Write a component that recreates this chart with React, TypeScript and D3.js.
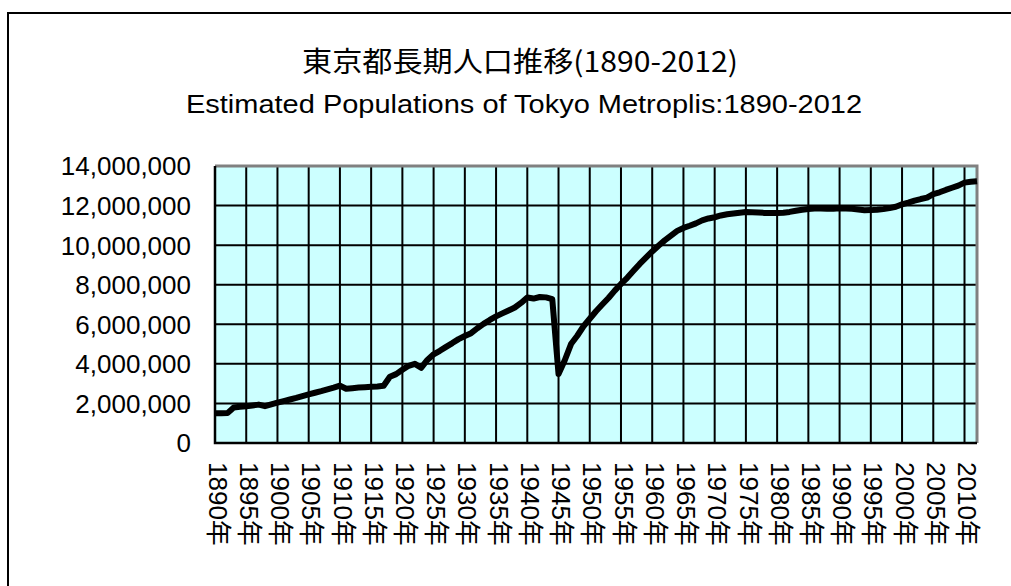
import { useEffect, useRef } from "react";
import * as d3 from "d3";

// 東京都の推計人口 (年ごと, 1890-2012)
const years: number[] = d3.range(1890, 2013);

const population: number[] = [
  1500000, 1500000, 1510000, 1790000, 1830000, 1860000, 1900000, 1940000, 1860000, 1950000, // 1890-1899
  2040000, 2120000, 2200000, 2280000, 2370000, 2460000, 2540000, 2620000, 2710000, 2800000, // 1900-1909
  2900000, 2740000, 2770000, 2800000, 2820000, 2840000, 2860000, 2890000, 3350000, 3480000, // 1910-1919
  3700000, 3900000, 4000000, 3800000, 4200000, 4480000, 4660000, 4860000, 5050000, 5250000, // 1920-1929
  5410000, 5550000, 5800000, 6020000, 6220000, 6400000, 6550000, 6700000, 6850000, 7080000, // 1930-1939
  7350000, 7300000, 7380000, 7360000, 7270000, 3490000, 4180000, 5000000, 5420000, 5900000, // 1940-1949
  6280000, 6660000, 7000000, 7330000, 7700000, 8040000, 8350000, 8700000, 9050000, 9370000, // 1950-1959
  9680000, 9970000, 10240000, 10480000, 10720000, 10870000, 10980000, 11100000, 11250000, 11350000, // 1960-1969
  11410000, 11500000, 11560000, 11600000, 11640000, 11670000, 11660000, 11650000, 11630000, 11620000, // 1970-1979
  11620000, 11640000, 11680000, 11740000, 11790000, 11830000, 11850000, 11850000, 11840000, 11840000, // 1980-1989
  11860000, 11850000, 11840000, 11800000, 11760000, 11770000, 11790000, 11820000, 11870000, 11940000, // 1990-1999
  12060000, 12150000, 12250000, 12330000, 12400000, 12580000, 12670000, 12790000, 12900000, 13010000, // 2000-2009
  13160000, 13200000, 13230000, // 2010-2012
];

const yTicks: number[] = d3.range(0, 14000001, 2000000);
const labelYears: number[] = d3.range(1890, 2013, 5);

const title = "東京都長期人口推移(1890-2012)";
const subtitle = "Estimated Populations of Tokyo Metroplis:1890-2012";

const W = 1011;
const H = 586;
const FONT = "'Liberation Sans', Arial, 'Noto Sans CJK JP', sans-serif";

export default function App() {
  const svgRef = useRef<SVGSVGElement>(null);

  useEffect(() => {
    if (!svgRef.current) return;
    const svg = d3.select(svgRef.current);
    svg.selectAll("*").remove();

    const plot = { left: 215, right: 977, top: 166, bottom: 443 };

    const x = d3.scalePoint<number>().domain(years).range([plot.left, plot.right]);
    const y = d3.scaleLinear().domain([0, 14000000]).range([plot.bottom, plot.top]);

    svg.append("rect").attr("width", W).attr("height", H).attr("fill", "#fff");

    // outer frame (runs off the right and bottom)
    svg
      .append("rect")
      .attr("x", 8)
      .attr("y", 13)
      .attr("width", W + 20)
      .attr("height", H + 20)
      .attr("fill", "none")
      .attr("stroke", "#000")
      .attr("stroke-width", 2);

    svg
      .append("text")
      .attr("x", 520)
      .attr("y", 72)
      .attr("text-anchor", "middle")
      .attr("font-family", "'Noto Sans CJK JP', sans-serif")
      .attr("font-size", 28)
      .attr("textLength", 436)
      .attr("lengthAdjust", "spacingAndGlyphs")
      .attr("fill", "#000")
      .text(title);

    svg
      .append("text")
      .attr("x", 524)
      .attr("y", 113)
      .attr("text-anchor", "middle")
      .attr("font-family", FONT)
      .attr("font-size", 25)
      .attr("textLength", 676)
      .attr("lengthAdjust", "spacingAndGlyphs")
      .attr("fill", "#000")
      .text(subtitle);

    // plot background
    svg
      .append("rect")
      .attr("x", plot.left)
      .attr("y", plot.top)
      .attr("width", plot.right - plot.left)
      .attr("height", plot.bottom - plot.top)
      .attr("fill", "#CCFFFF");

    // horizontal grid
    svg
      .append("g")
      .selectAll("line")
      .data(yTicks.filter((d) => d > 0 && d < 14000000))
      .enter()
      .append("line")
      .attr("x1", plot.left)
      .attr("x2", plot.right)
      .attr("y1", (d) => y(d))
      .attr("y2", (d) => y(d))
      .attr("stroke", "#000")
      .attr("stroke-width", 2);

    // vertical grid every 5 years
    svg
      .append("g")
      .selectAll("line")
      .data(labelYears.filter((d) => d > 1890))
      .enter()
      .append("line")
      .attr("x1", (d) => x(d)!)
      .attr("x2", (d) => x(d)!)
      .attr("y1", plot.top)
      .attr("y2", plot.bottom)
      .attr("stroke", "#000")
      .attr("stroke-width", 2);

    // top & right border (gray), left & bottom axes (black)
    svg
      .append("path")
      .attr("d", `M${plot.left},${plot.top}H${plot.right}V${plot.bottom}`)
      .attr("fill", "none")
      .attr("stroke", "#808080")
      .attr("stroke-width", 3);
    svg
      .append("path")
      .attr("d", `M${plot.left},${plot.top}V${plot.bottom}H${plot.right}`)
      .attr("fill", "none")
      .attr("stroke", "#000")
      .attr("stroke-width", 2.5);

    // y labels
    svg
      .append("g")
      .selectAll("text")
      .data(yTicks)
      .enter()
      .append("text")
      .attr("x", 191)
      .attr("y", (d) => y(d))
      .attr("dy", "0.36em")
      .attr("text-anchor", "end")
      .attr("font-family", FONT)
      .attr("font-size", 26)
      .attr("fill", "#000")
      .text((d) => d3.format(",")(d));

    // x labels, rotated 90°
    svg
      .append("g")
      .selectAll("text")
      .data(labelYears)
      .enter()
      .append("text")
      .attr("transform", (d) => `translate(${x(d)! + 3},${plot.bottom + 19}) rotate(90)`)
      .attr("dy", "0.36em")
      .attr("text-anchor", "start")
      .attr("font-family", FONT)
      .attr("font-size", 26)
      .attr("fill", "#000")
      .text((d) => `${d}年`);

    const line = d3
      .line<number>()
      .x((_, i) => x(years[i])!)
      .y((d) => y(d));

    svg
      .append("path")
      .datum(population)
      .attr("d", line)
      .attr("fill", "none")
      .attr("stroke", "#000")
      .attr("stroke-width", 6)
      .attr("stroke-linejoin", "round")
      .attr("stroke-linecap", "butt");
  }, []);

  return (
    <svg
      ref={svgRef}
      width={W}
      height={H}
      style={{ position: "absolute", left: 0, top: 0, display: "block" }}
    />
  );
}
